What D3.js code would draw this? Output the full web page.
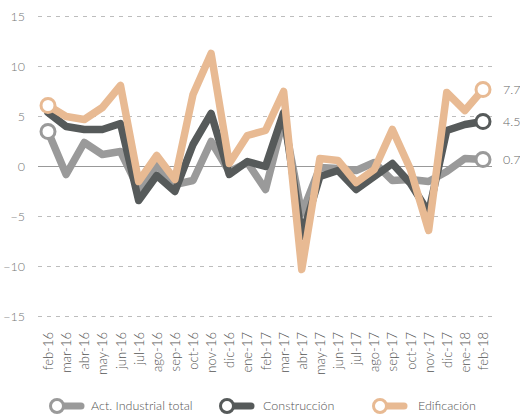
<!DOCTYPE html>
<html>
<head>
<meta charset="utf-8">
<script src="https://cdn.jsdelivr.net/npm/d3@7"></script>
<style>
  body { margin: 0; background: #fff; }
  svg text { font-family: Lato, "Open Sans", sans-serif; font-weight: 300; }
</style>
</head>
<body>
<svg id="chart"></svg>
<script>
const width = 520;
const height = 417;

const months = ["feb-16", "mar-16", "abr-16", "may-16", "jun-16", "jul-16", "ago-16", "sep-16",
  "oct-16", "nov-16", "dic-16", "ene-17", "feb-17", "mar-17", "abr-17", "may-17", "jun-17",
  "jul-17", "ago-17", "sep-17", "oct-17", "nov-17", "dic-17", "ene-18", "feb-18"];

const industrial = [3.5, -0.8, 2.4, 1.2, 1.5, -2.2, 0.1, -1.8, -1.4, 2.5, -0.5, 0.4, -2.3,
  4.8, -4.7, -0.1, -0.2, -0.4, 0.4, -1.4, -1.3, -1.5, -0.5, 0.8, 0.7];
const construccion = [5.4, 4.0, 3.7, 3.7, 4.3, -3.4, -0.9, -2.5, 2.2, 5.3, -0.8, 0.5, 0.0,
  5.4, -7.0, -1.0, -0.4, -2.3, -1.0, 0.3, -1.7, -4.6, 3.6, 4.2, 4.5];
const edificacion = [6.1, 5.0, 4.7, 5.9, 8.1, -1.5, 1.1, -1.3, 7.2, 11.3, 0.3, 3.1, 3.6,
  7.5, -10.3, 0.8, 0.6, -1.6, -0.3, 3.7, -0.3, -6.4, 7.4, 5.6, 7.7];

const yTicks = [15, 10, 5, 0, -5, -10, -15];

const series = [
  { name: "Act. Industrial total", values: industrial, color: "#9a9a9a", startDot: true },
  { name: "Construcción", values: construccion, color: "#565a5a", startDot: false },
  { name: "Edificación", values: edificacion, color: "#e8ba93", startDot: true }
];

const svg = d3.select("#chart")
  .attr("width", width)
  .attr("height", height);

const x = d3.scalePoint()
  .domain(months)
  .range([48, 483]);

const y = d3.scaleLinear()
  .domain([-15, 15])
  .range([316.5, 16.5]);

// grid
svg.append("g")
  .selectAll("line")
  .data(yTicks)
  .join("line")
  .attr("x1", 38)
  .attr("x2", 492)
  .attr("y1", d => y(d))
  .attr("y2", d => y(d))
  .attr("stroke", d => d === 0 ? "#999" : "#bdbdbd")
  .attr("stroke-width", 1)
  .attr("stroke-dasharray", d => d === 0 ? null : "4,5");

// y axis labels
const yAxis = d3.axisLeft(y).tickValues(yTicks).tickSize(0).tickPadding(0);
svg.append("g")
  .attr("transform", "translate(25,0)")
  .call(yAxis)
  .call(g => g.select(".domain").remove())
  .call(g => g.selectAll("text")
    .attr("fill", "#777")
    .style("font-size", "12.5px"));

// x axis labels
const xAxis = d3.axisBottom(x).tickSize(0).tickPadding(0);
svg.append("g")
  .attr("transform", "translate(0,332)")
  .call(xAxis)
  .call(g => g.select(".domain").remove())
  .call(g => g.selectAll("text")
    .attr("fill", "#555")
    .style("font-size", "13px")
    .attr("text-anchor", "end")
    .attr("dy", "0.35em")
    .attr("transform", "rotate(-90)"));

const line = d3.line()
  .x((d, i) => x(months[i]))
  .y(d => y(d));

svg.append("g")
  .selectAll("path")
  .data(series)
  .join("path")
  .attr("d", d => line(d.values))
  .attr("fill", "none")
  .attr("stroke", d => d.color)
  .attr("stroke-width", 7.5)
  .attr("stroke-linejoin", "round")
  .attr("stroke-linecap", "round");

// start / end dots
const last = months.length - 1;
series.forEach(s => {
  const idx = s.startDot ? [0, last] : [last];
  idx.forEach(i => {
    svg.append("circle")
      .attr("cx", x(months[i]))
      .attr("cy", y(s.values[i]))
      .attr("r", 7)
      .attr("fill", "#fff")
      .attr("stroke", s.color)
      .attr("stroke-width", 3);
  });
  svg.append("text")
    .attr("x", 503)
    .attr("y", y(s.values[last]))
    .attr("dy", "0.35em")
    .attr("fill", "#666")
    .style("font-size", "12.5px")
    .text(s.values[last].toFixed(1));
});

// legend
const legendX = [57, 227, 380];
const legend = svg.append("g")
  .selectAll("g")
  .data(series)
  .join("g")
  .attr("transform", (d, i) => `translate(${legendX[i]},406)`);

legend.append("line")
  .attr("x1", 0)
  .attr("x2", 24)
  .attr("stroke", d => d.color)
  .attr("stroke-width", 7)
  .attr("stroke-linecap", "round");

legend.append("circle")
  .attr("r", 6.5)
  .attr("fill", "#fff")
  .attr("stroke", d => d.color)
  .attr("stroke-width", 3);

legend.append("text")
  .attr("x", (d, i) => i === 2 ? 38 : (i === 1 ? 36 : 34))
  .attr("dy", "0.35em")
  .attr("fill", "#555")
  .style("font-size", "12.5px")
  .text(d => d.name);
</script>
</body>
</html>
